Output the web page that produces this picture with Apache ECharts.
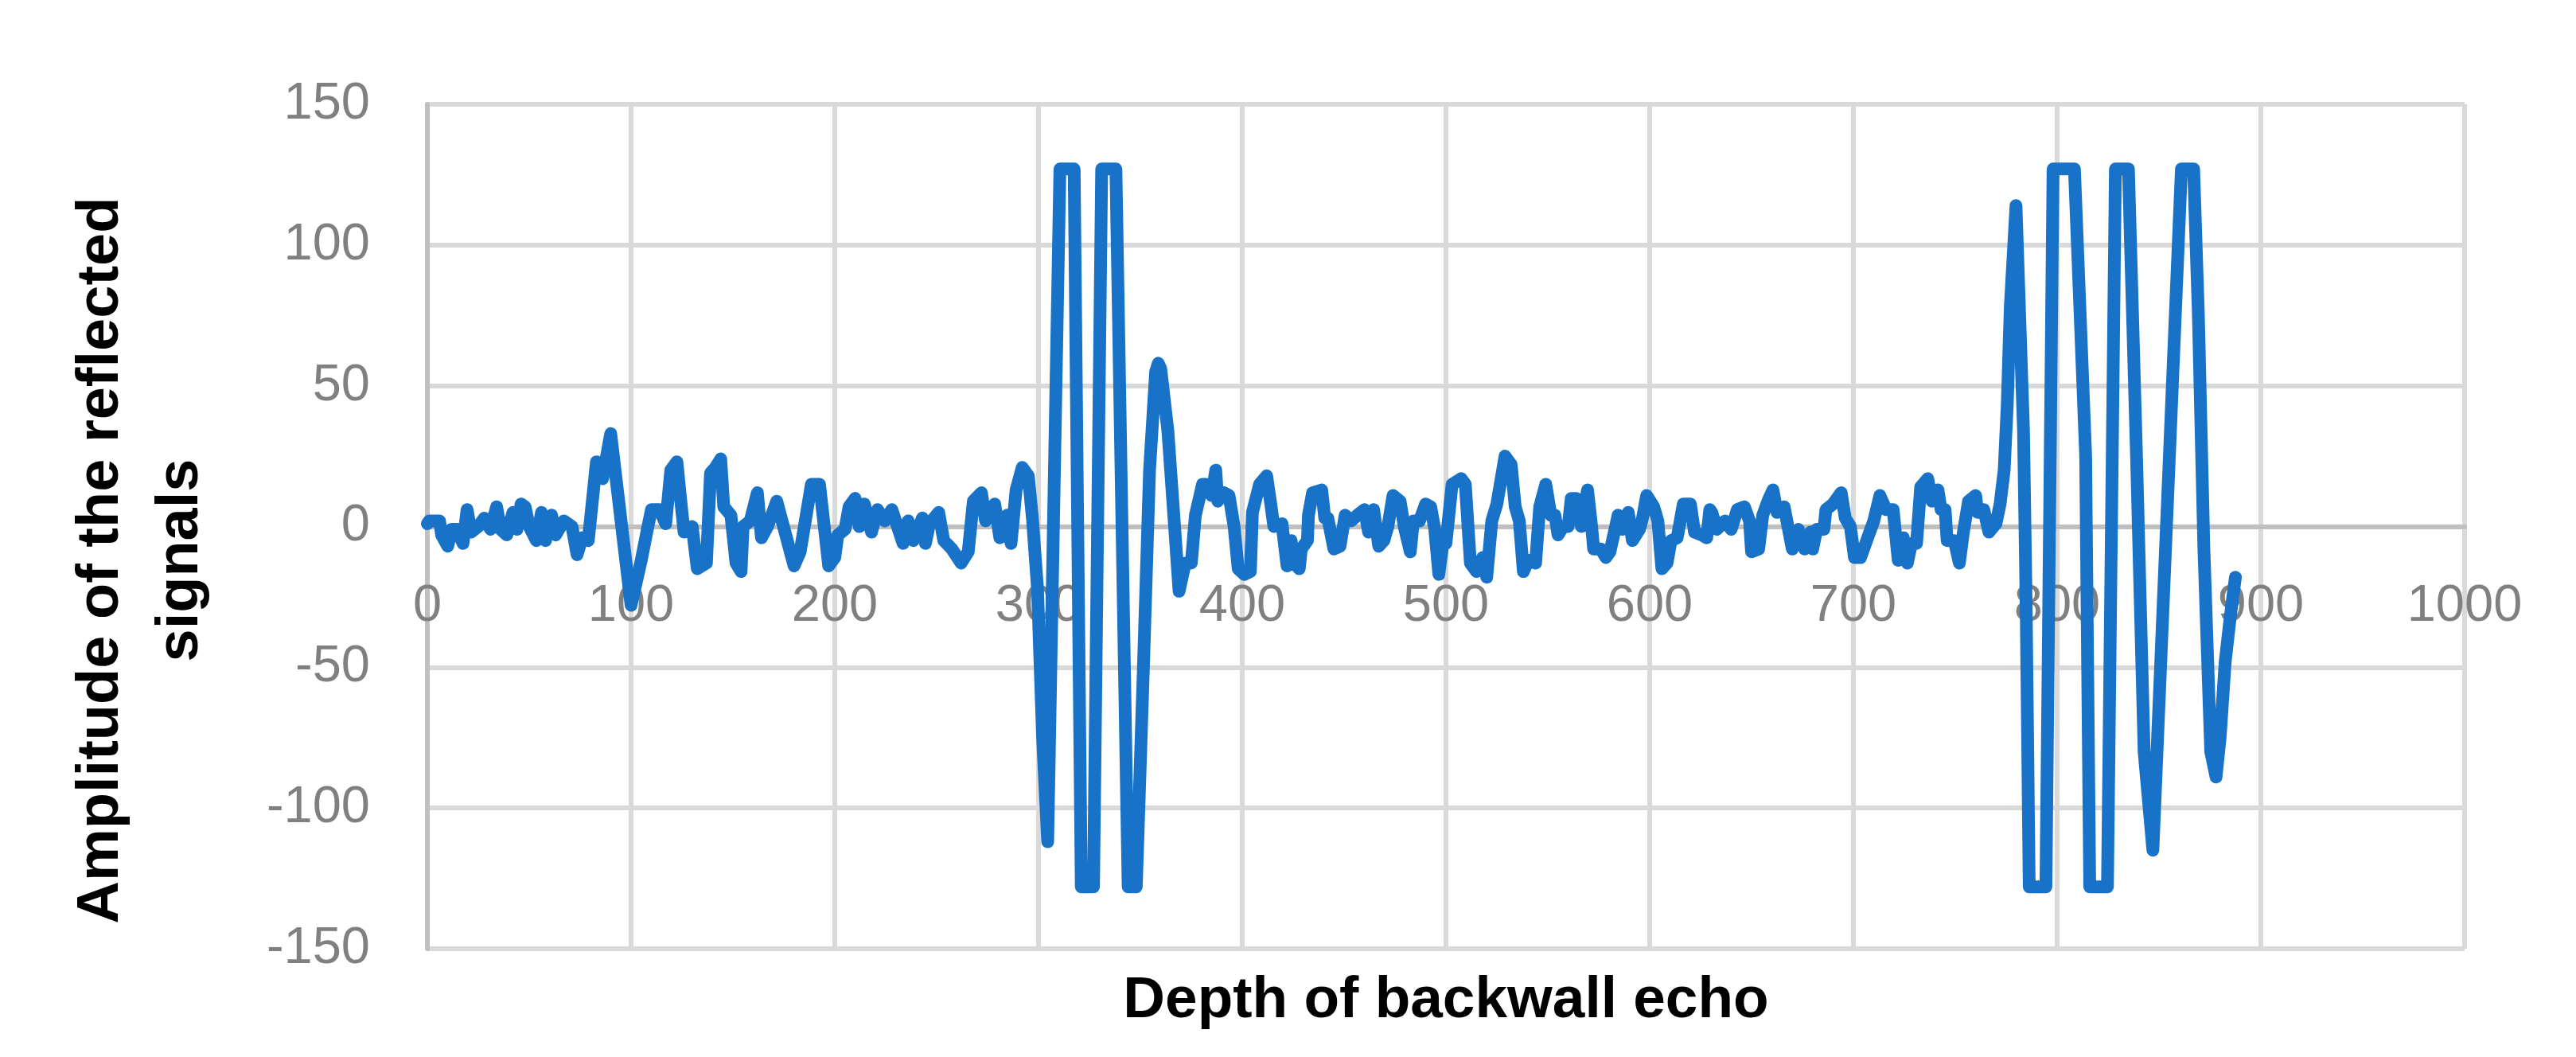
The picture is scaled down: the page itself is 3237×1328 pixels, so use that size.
<!DOCTYPE html>
<html>
<head>
<meta charset="utf-8">
<title>Backwall echo</title>
<script src="https://cdn.jsdelivr.net/npm/echarts@6/dist/echarts.min.js"></script>
<style>
    html, body { margin: 0; padding: 0; background: #fff; }
    #chart { width: 3237px; height: 1328px; }
</style>
</head>
<body>
<div id="chart"></div>
<script>
// depth (x) of each vertex
const depth = [
    0, 1, 6, 7, 10, 12, 14.5, 17.5, 19.5, 21.5, 25, 28, 31, 34, 36, 39, 42, 44, 46, 48,
    50, 53.5, 56, 58, 61, 63, 67, 71, 73.5, 76, 79, 83, 86, 90, 100, 105, 108, 110, 114, 117,
    119.5, 122.5, 124, 126, 130, 132.5, 137, 139, 141.5, 144, 145.5, 149, 151.5, 154, 155, 158.5, 162, 164, 167, 171.5,
    180, 183, 188.5, 192.5, 197, 200, 201.5, 205, 207, 210, 212, 214.5, 218, 221, 224.5, 228, 233.5, 236, 238.5, 243,
    244.5, 246.5, 251, 253.5, 257.5, 262, 265.5, 268, 272, 274, 278.5, 281, 284.5, 286.5, 289, 292, 295,
    // first echo
    297, 299.5, 302, 304.5, 310.5, 317.5, 321, 327, 331, 338, 344, 348, 351.5, 354.5, 357.5, 358.8, 360, 363.5, 366.5, 369,
    372, 375, 377, 380.5, 382, 385, 387, 388, 391, 393.5, 396, 398, 401, 404, 405, 408.5, 412, 414, 415.5, 419.5,
    422, 424, 425.5, 428, 429, 432, 432.5, 434.5, 439, 440.5, 442, 445, 448, 450.5, 453.5, 456.5, 460, 462, 464.5, 467,
    469.5, 471.5, 474, 477.5, 479.5, 482.5, 484, 487, 490, 492.5, 494.5, 496.5, 498.5, 500, 503, 507.5, 509.5, 512, 515, 518,
    520, 522.5, 525,
    529, 532, 534, 536, 538, 540.5, 544, 546, 549, 551.5, 553.5, 555, 557.5, 560, 561.5, 564, 566.5, 569.5, 571.5, 572.5,
    576, 578.5, 580.5, 584.5, 586.5, 589.5, 591.5, 595, 596.5, 598.5, 602, 604, 606, 608.5, 610.5, 613.5, 616.5, 620, 622, 625.5,
    628, 629.5, 630.5, 633, 637, 640, 643, 646.5, 649, 650, 653.5, 655.5, 658, 660.5, 662.5, 666, 670, 673, 676, 679,
    680, 682, 685.5, 686.5, 690, 694, 696, 698.5, 700.5,
    703.5, 707, 710, 713, 716, 719.5, 722, 724.5, 726.5, 728.5, 731, 733, 736.5, 738.5, 741.5, 743, 745, 746, 749.5, 752,
    754, 756.5, 760, 761, 764, 766.5, 770, 772, 774, 775.5, 777, 779.8,
    // backwall echo
    783.5, 784.8, 786.3, 794.5, 798, 808.5, 814, 816, 824.7, 828.6, 835, 839, 842.7, 847, 861, 867, 869.3, 872, 875.4, 878,
    880, 882.5, 885, 887.5
];

// amplitude of the reflected signal at each vertex
const amplitude = [
    1, 2, 2, -3, -7, -1, -1, -6, 6, -2, 0, 3, -1, 7, -1, -3, 5, -1, 8, 7,
    0, -5, 5, -5, 4, -3, 2, 0, -10, -4, -5, 23, 17, 33, -28, -12, -1, 6, 6, 1,
    20, 23, 12, -2, 0, -15, -13, 19, 21, 24, 7, 4, -13, -16, 0, 2, 12, -4, 0, 9,
    -14, -9, 15, 15, -14, -11, -3, -1, 7, 10, 0, 8, -2, 6, 2, 6, -6, 2, -5, 3,
    -6, 1, 5, -5, -8, -13, -9, 9, 12, 2, 8, -4, 4, -6, 13, 21, 18,
    3, -22, -75, -112, 127, 127, -128, -128, 127, 127, -128, -128, -50, 20, 55, 58, 56, 34, 3, -23,
    -13, -13, 4, 15, 15, 11, 20, 9, 12, 11, 0, -15, -17, -16, 5, 15, 18, 8, 0, 1,
    -14, -5, -13, -15, -8, -5, 4, 12, 13, 3, 3, -8, -7, 4, 2, 4, 6, -2, 6, -7,
    -5, 0, 11, 9, 0, -9, 2, 2, 8, 7, -1, -17, -6, -6, 15, 17, 15, -13, -16, -11,
    -18, 2, 8,
    25, 22, 7, 2, -16, -12, -13, 7, 15, 4, 4, -3, 0, 0, 10, 10, 0, 13, 0, -8,
    -8, -11, -9, 4, -1, 5, -5, -1, 3, 11, 7, 2, -15, -13, -5, -4, 8, 8, -2, -3,
    -4, 6, 5, -1, 2, -1, 6, 7, 2, -9, -8, 4, 9, 13, 5, 7, -8, -1, -8, -2,
    -8, -1, -1, 6, 8, 12, 3, 0, -11,
    -11, -4, 2, 11, 6, 6, -12, -4, -13, -6, -6, 14, 17, 9, 13, 6, 6, -5, -5, -13,
    -2, 9, 11, 5, 6, -2, 1, 8, 20, 43, 78, 114,
    34, -28, -128, -128, 127, 127, 25, -128, -128, 127, 127, 24, -80, -115, 127, 127, 76, -7, -80, -89,
    -75, -48, -32, -18
];

const labelFont = 'Liberation Sans';
const titleFont = '"Liberation Sans", sans-serif';

const plotHeight = 1328 - 131 - 136;

const chart = echarts.init(document.getElementById('chart'));

const option = {
    backgroundColor: '#ffffff',
    animation: false,
    grid: {
        left: 537,
        right: 140,
        top: 131,
        bottom: 136
    },
    xAxis: {
        type: 'value',
        min: 0,
        max: 1000,
        interval: 100,
        position: 'bottom',
        // the x axis crosses at amplitude 0, halfway up the plot
        offset: -plotHeight / 2,
        axisLine: { onZero: false, lineStyle: { color: '#bfbfbf', width: 6 } },
        axisTick: { show: false },
        axisLabel: {
            color: '#808080',
            fontSize: 65,
            fontFamily: labelFont,
            margin: 68,
            formatter: v => String(v)
        },
        splitLine: { lineStyle: { color: '#d9d9d9', width: 6 } }
    },
    yAxis: {
        type: 'value',
        min: -150,
        max: 150,
        interval: 50,
        axisLine: { show: true, onZero: false, lineStyle: { color: '#bfbfbf', width: 6 } },
        axisTick: { show: false },
        axisLabel: {
            color: '#808080',
            fontSize: 65,
            fontFamily: labelFont,
            margin: 72,
            formatter: v => String(v)
        },
        splitLine: { lineStyle: { color: '#d9d9d9', width: 6 } }
    },
    graphic: [
        {
            type: 'text',
            x: 178,
            y: 704,
            rotation: Math.PI / 2,
            style: {
                text: 'Amplitude of the reflected\nsignals',
                fontSize: 74,
                fontWeight: 'bold',
                fontFamily: titleFont,
                fill: '#000',
                align: 'center',
                verticalAlign: 'middle',
                lineHeight: 100
            }
        },
        {
            type: 'text',
            x: 1817,
            y: 1258,
            style: {
                text: 'Depth of backwall echo',
                fontSize: 73,
                fontWeight: 'bold',
                fontFamily: titleFont,
                fill: '#000',
                align: 'center',
                verticalAlign: 'middle'
            }
        }
    ],
    series: [
        {
            type: 'line',
            data: depth.map((d, i) => [d, amplitude[i]]),
            showSymbol: false,
            lineStyle: { color: '#1873c8', width: 16, join: 'round', cap: 'round' }
        }
    ]
};

chart.setOption(option);
</script>
</body>
</html>
